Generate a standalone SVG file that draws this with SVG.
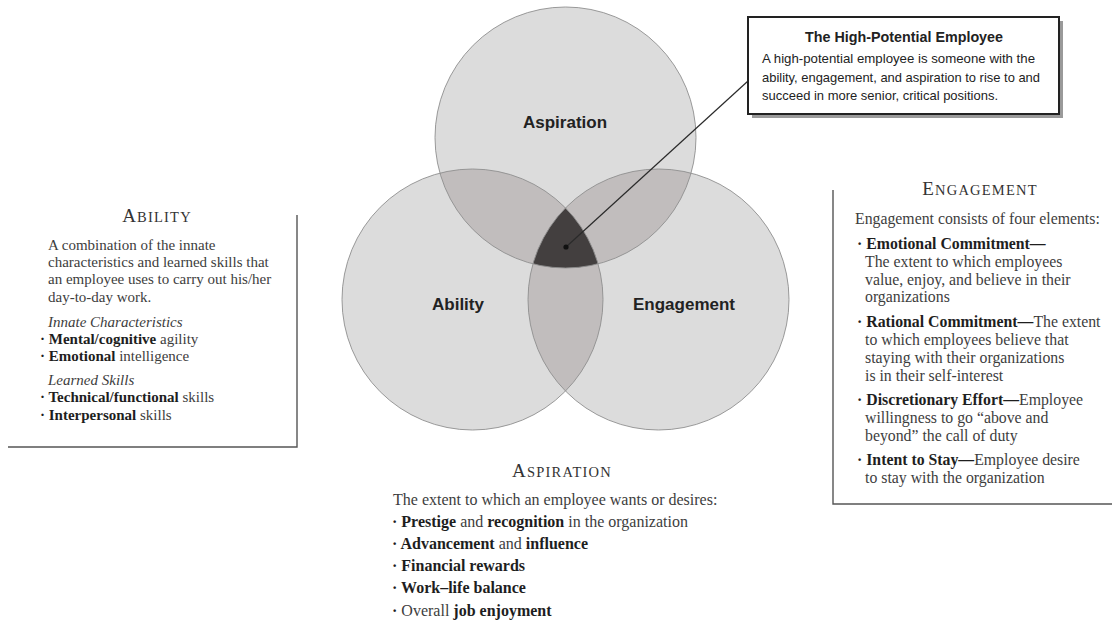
<svg xmlns="http://www.w3.org/2000/svg" width="1112" height="639" viewBox="0 0 1112 639">
<style>
  .fill { fill: #dcdcdc; stroke: none; }
  .lens { fill: #c1bdbd; }
  .core { fill: #433f3f; }
  .ring { fill: none; stroke: #8f8f8f; stroke-width: 0.9; }
  .vlabel { font-family: "Liberation Sans", Arial, sans-serif; font-weight: bold; font-size: 17px; fill: #222; text-anchor: middle; }
  .body { font-family: "Liberation Serif", "Times New Roman", serif; fill: #3d3d3d; }
  .ab { font-size: 15px; }
  .en { font-size: 15.8px; }
  .as { font-size: 16px; }
  .b { font-weight: bold; fill: #1e1e1e; }
  .it { font-style: italic; }
  .ttl { font-family: "Liberation Serif", "Times New Roman", serif; fill: #333; text-anchor: middle; letter-spacing: 1.2px; }
  .cap { font-size: 19px; }
  .sc { font-size: 14.5px; }
  .panel { fill: none; stroke: #555; stroke-width: 1.4; }
  .callout-t { font-family: "Liberation Sans", Arial, sans-serif; fill: #222; }
</style>
<defs>
  <clipPath id="cA"><circle cx="565.5" cy="137.5" r="130.5"/></clipPath>
  <clipPath id="cB"><circle cx="472.5" cy="299.5" r="130.5"/></clipPath>
  <clipPath id="cC"><circle cx="658.5" cy="299.5" r="130.5"/></clipPath>
</defs>
<rect width="1112" height="639" fill="#ffffff"/>

<g id="venn-fills">
  <circle class="fill" cx="565.5" cy="137.5" r="130.5"/>
  <circle class="fill" cx="472.5" cy="299.5" r="130.5"/>
  <circle class="fill" cx="658.5" cy="299.5" r="130.5"/>
</g>
<g id="venn-overlaps">
  <circle class="lens" cx="472.5" cy="299.5" r="130.5" clip-path="url(#cA)"/>
  <circle class="lens" cx="658.5" cy="299.5" r="130.5" clip-path="url(#cA)"/>
  <circle class="lens" cx="658.5" cy="299.5" r="130.5" clip-path="url(#cB)"/>
  <g clip-path="url(#cA)">
    <circle class="core" cx="658.5" cy="299.5" r="130.5" clip-path="url(#cB)"/>
  </g>
</g>

<g id="node-aspiration">
  <circle class="ring" cx="565.5" cy="137.5" r="130.5"/>
  <text class="vlabel" x="565" y="128">Aspiration</text>
</g>
<g id="node-ability">
  <circle class="ring" cx="472.5" cy="299.5" r="130.5"/>
  <text class="vlabel" x="458" y="310">Ability</text>
</g>
<g id="node-engagement">
  <circle class="ring" cx="658.5" cy="299.5" r="130.5"/>
  <text class="vlabel" x="684" y="310">Engagement</text>
</g>

<g id="connectors">
  <line x1="566" y1="247" x2="748" y2="81" stroke="#2a2a2a" stroke-width="1.2"/>
  <circle cx="566" cy="247" r="2.6" fill="#111"/>
</g>

<g id="node-high-potential">
  <rect x="752" y="21" width="311" height="97" fill="#9a9a9a"/>
  <rect x="748" y="17" width="311" height="97" fill="#ffffff" stroke="#222" stroke-width="2"/>
  <text class="callout-t" x="904" y="42" text-anchor="middle" font-weight="bold" font-size="14.5" textLength="198" lengthAdjust="spacingAndGlyphs">The High-Potential Employee</text>
  <text class="callout-t" x="762" y="63" font-size="13.5" textLength="273" lengthAdjust="spacingAndGlyphs">A high-potential employee is someone with the</text>
  <text class="callout-t" x="762" y="82" font-size="13.5" textLength="278" lengthAdjust="spacingAndGlyphs">ability, engagement, and aspiration to rise to and</text>
  <text class="callout-t" x="762" y="100" font-size="13.5" textLength="236" lengthAdjust="spacingAndGlyphs">succeed in more senior, critical positions.</text>
</g>

<g id="panel-ability">
  <polyline class="panel" points="297,215 297,447 8,447"/>
  <text class="ttl" x="157" y="222"><tspan class="cap">A</tspan><tspan class="sc">BILITY</tspan></text>
  <text class="body ab" x="48" y="250">A combination of the innate</text>
  <text class="body ab" x="48" y="267">characteristics and learned skills that</text>
  <text class="body ab" x="48" y="284">an employee uses to carry out his/her</text>
  <text class="body ab" x="48" y="302">day-to-day work.</text>
  <text class="body ab it" x="48" y="327">Innate Characteristics</text>
  <text class="body ab" x="40" y="344"><tspan class="b">· Mental/cognitive</tspan> agility</text>
  <text class="body ab" x="40" y="361"><tspan class="b">· Emotional</tspan> intelligence</text>
  <text class="body ab it" x="48" y="385">Learned Skills</text>
  <text class="body ab" x="40" y="402"><tspan class="b">· Technical/functional</tspan> skills</text>
  <text class="body ab" x="40" y="420"><tspan class="b">· Interpersonal</tspan> skills</text>
</g>

<g id="panel-engagement">
  <polyline class="panel" points="833,190 833,504 1112,504"/>
  <text class="ttl" x="980" y="195"><tspan class="cap">E</tspan><tspan class="sc">NGAGEMENT</tspan></text>
  <text class="body en" x="855" y="224">Engagement consists of four elements:</text>
  <text class="body en" x="857" y="249"><tspan class="b">· Emotional Commitment—</tspan></text>
  <text class="body en" x="865" y="267">The extent to which employees</text>
  <text class="body en" x="865" y="285">value, enjoy, and believe in their</text>
  <text class="body en" x="865" y="302">organizations</text>
  <text class="body en" x="857" y="327"><tspan class="b">· Rational Commitment—</tspan>The extent</text>
  <text class="body en" x="865" y="345">to which employees believe that</text>
  <text class="body en" x="865" y="363">staying with their organizations</text>
  <text class="body en" x="865" y="381">is in their self-interest</text>
  <text class="body en" x="857" y="405"><tspan class="b">· Discretionary Effort—</tspan>Employee</text>
  <text class="body en" x="865" y="423">willingness to go “above and</text>
  <text class="body en" x="865" y="441">beyond” the call of duty</text>
  <text class="body en" x="857" y="465"><tspan class="b">· Intent to Stay—</tspan>Employee desire</text>
  <text class="body en" x="865" y="483">to stay with the organization</text>
</g>

<g id="panel-aspiration">
  <text class="ttl" x="562" y="477"><tspan class="cap">A</tspan><tspan class="sc">SPIRATION</tspan></text>
  <text class="body as" x="393" y="505">The extent to which an employee wants or desires:</text>
  <text class="body as" x="392" y="527"><tspan class="b">· Prestige</tspan> and <tspan class="b">recognition</tspan> in the organization</text>
  <text class="body as" x="392" y="549"><tspan class="b">· Advancement</tspan> and <tspan class="b">influence</tspan></text>
  <text class="body as" x="392" y="571"><tspan class="b">· Financial rewards</tspan></text>
  <text class="body as" x="392" y="593"><tspan class="b">· Work–life balance</tspan></text>
  <text class="body as" x="392" y="616"><tspan class="b">·</tspan> Overall <tspan class="b">job enjoyment</tspan></text>
</g>
</svg>
